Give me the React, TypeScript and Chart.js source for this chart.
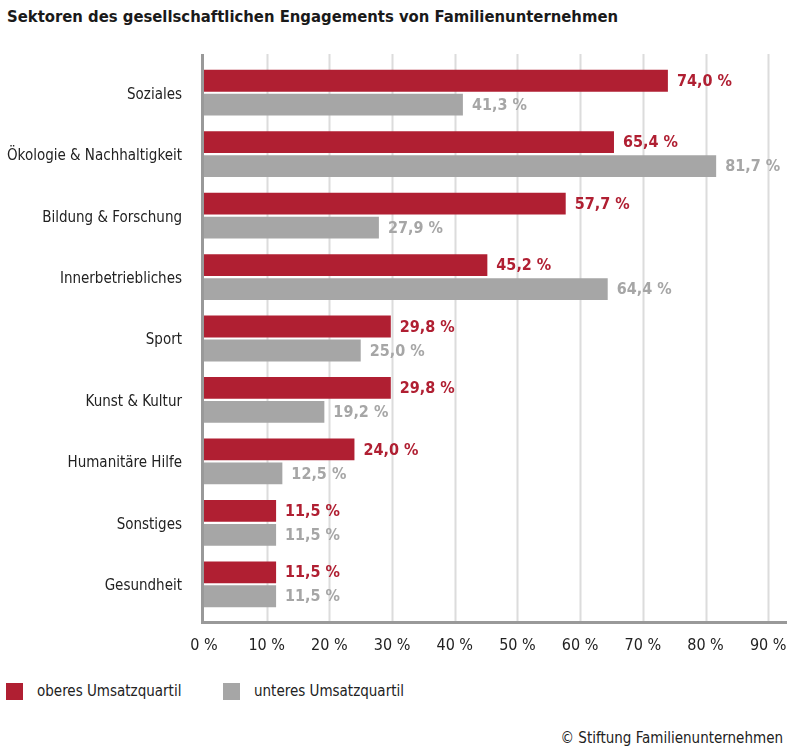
import React, { useEffect, useRef } from 'react';
import { Chart, registerables, Plugin } from 'chart.js';

Chart.register(...registerables);

const categories = [
  'Soziales',
  'Ökologie & Nachhaltigkeit',
  'Bildung & Forschung',
  'Innerbetriebliches',
  'Sport',
  'Kunst & Kultur',
  'Humanitäre Hilfe',
  'Sonstiges',
  'Gesundheit',
];
const oberesQuartil = [74.0, 65.4, 57.7, 45.2, 29.8, 29.8, 24.0, 11.5, 11.5];
const unteresQuartil = [41.3, 81.7, 27.9, 64.4, 25.0, 19.2, 12.5, 11.5, 11.5];
const tickValues = [0, 10, 20, 30, 40, 50, 60, 70, 80, 90];

const RED = '#b01f32';
const GRAY = '#a6a6a6';
const FONT = '"Liberation Sans Narrow", "DejaVu Sans Condensed", "Roboto", sans-serif';

const fmt = (v: number) => v.toFixed(1).replace('.', ',') + ' %';

// grid + thick axis lines, drawn a bit beyond the chart area like the original
const gridPlugin: Plugin = {
  id: 'gridLines',
  beforeDatasetsDraw(chart) {
    const { ctx, chartArea } = chart;
    const x = chart.scales['x'];
    const top = chartArea.top - 8;
    const bottom = chartArea.bottom + 6;
    ctx.save();
    ctx.strokeStyle = '#dcdcdc';
    ctx.lineWidth = 2;
    tickValues.slice(1).forEach((v) => {
      const px = Math.round(x.getPixelForValue(v)) + 0.5;
      ctx.beginPath();
      ctx.moveTo(px, top);
      ctx.lineTo(px, bottom);
      ctx.stroke();
    });
    ctx.strokeStyle = '#999999';
    ctx.lineWidth = 3;
    ctx.beginPath();
    ctx.moveTo(chartArea.left - 1.5, top);
    ctx.lineTo(chartArea.left - 1.5, bottom + 1.5);
    ctx.lineTo(chartArea.right, bottom + 1.5);
    ctx.stroke();
    ctx.restore();
  },
};

const valueLabels: Plugin = {
  id: 'valueLabels',
  afterDatasetsDraw(chart) {
    const { ctx } = chart;
    ctx.save();
    ctx.font = `bold 16px ${FONT}`;
    ctx.textBaseline = 'middle';
    ctx.textAlign = 'left';
    chart.data.datasets.forEach((ds, di) => {
      const meta = chart.getDatasetMeta(di);
      ctx.fillStyle = ds.backgroundColor as string;
      meta.data.forEach((bar: any, i) => {
        const v = ds.data[i] as number;
        ctx.fillText(fmt(v), bar.x + 9, bar.y + 1);
      });
    });
    ctx.restore();
  },
};

export default function App() {
  const canvasRef = useRef<HTMLCanvasElement | null>(null);

  useEffect(() => {
    if (!canvasRef.current) return;
    const chart = new Chart(canvasRef.current, {
      type: 'bar',
      data: {
        labels: categories,
        datasets: [
          {
            label: 'oberes Umsatzquartil',
            data: oberesQuartil,
            backgroundColor: RED,
            categoryPercentage: 0.78,
            barPercentage: 0.91,
          },
          {
            label: 'unteres Umsatzquartil',
            data: unteresQuartil,
            backgroundColor: GRAY,
            categoryPercentage: 0.78,
            barPercentage: 0.91,
          },
        ],
      },
      options: {
        indexAxis: 'y',
        responsive: true,
        maintainAspectRatio: false,
        animation: false,
        layout: { padding: { top: 62, right: 13, bottom: 15, left: 0 } },
        scales: {
          x: {
            type: 'linear',
            min: 0,
            max: 93,
            afterBuildTicks: (scale: any) => {
              scale.ticks = tickValues.map((v) => ({ value: v }));
            },
            afterFit: (scale: any) => {
              scale.height = 40;
              scale.paddingLeft = 0;
              scale.paddingRight = 0;
            },
            grid: { display: false, drawTicks: false },
            border: { display: false },
            ticks: {
              padding: 21,
              color: '#222',
              font: { family: FONT, size: 16 },
              callback: (v: any) => `${v} %`,
            },
          },
          y: {
            afterFit: (scale: any) => {
              scale.width = 204;
              scale.paddingTop = 0;
              scale.paddingBottom = 0;
            },
            grid: { display: false, drawTicks: false },
            border: { display: false },
            ticks: {
              padding: 22,
              labelOffset: 2,
              color: '#222',
              font: { family: FONT, size: 15 },
            },
          },
        },
        plugins: {
          legend: { display: false },
          tooltip: { enabled: false },
        },
      },
      plugins: [gridPlugin, valueLabels],
    });
    return () => chart.destroy();
  }, []);

  return (
    <div
      style={{
        position: 'absolute',
        left: 0,
        top: 0,
        width: 800,
        height: 751,
        background: 'white',
        fontFamily: FONT,
        color: '#222',
      }}
    >
      <div
        style={{
          position: 'absolute',
          left: 7,
          top: 7,
          fontSize: 16.5,
          fontWeight: 'bold',
          whiteSpace: 'nowrap',
          color: '#1a1a1a',
        }}
      >
        Sektoren des gesellschaftlichen Engagements von Familienunternehmen
      </div>
      <div style={{ position: 'absolute', left: 0, top: 0, width: 800, height: 670 }}>
        <canvas ref={canvasRef} />
      </div>
      <div style={{ position: 'absolute', left: 6, top: 683, width: 17, height: 17, background: RED }} />
      <div style={{ position: 'absolute', left: 37, top: 681, fontSize: 15, lineHeight: '20px' }}>
        oberes Umsatzquartil
      </div>
      <div style={{ position: 'absolute', left: 223, top: 683, width: 17, height: 17, background: GRAY }} />
      <div style={{ position: 'absolute', left: 254, top: 681, fontSize: 15, lineHeight: '20px' }}>
        unteres Umsatzquartil
      </div>
      <div
        style={{
          position: 'absolute',
          right: 17,
          top: 728,
          fontSize: 15,
          lineHeight: '20px',
          whiteSpace: 'nowrap',
        }}
      >
        © Stiftung Familienunternehmen
      </div>
    </div>
  );
}
